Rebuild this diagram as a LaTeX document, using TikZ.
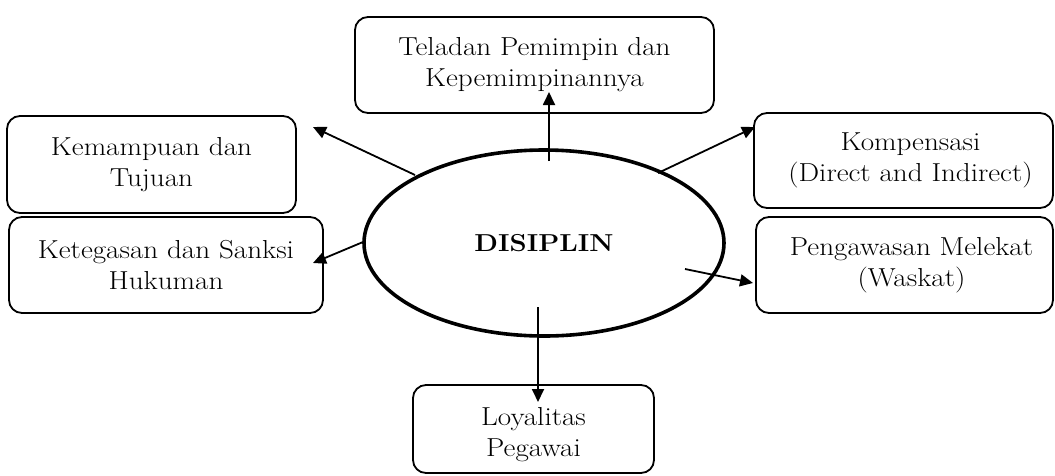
\documentclass[tikz,border=0pt]{standalone}
\usepackage{fontspec}
\setmainfont{Latin Modern Roman}[FakeStretch=1.12]
\usetikzlibrary{arrows.meta,shapes.geometric}
\begin{document}
\begin{tikzpicture}[x=1pt,y=-1pt,
  box/.style={draw=black,line width=1.8pt,rounded corners=13pt,align=center,inner sep=0pt,
    font=\fontsize{26}{31}\selectfont},
  arr/.style={line width=1.8pt,-{Triangle[length=13pt,width=12pt]}},
  core/.style={draw=black,ellipse,line width=3.6pt,minimum width=360pt,minimum height=186pt,inner sep=0pt,
    font=\bfseries\fontsize{24.5}{30}\selectfont}]
\useasboundingbox (0,0) rectangle (1055,475);
\node[box,minimum width=359pt,minimum height=96pt] (top) at (534.5,65) {Teladan Pemimpin dan\\Kepemimpinannya};
\node[box,minimum width=289pt,minimum height=97pt] (lt) at (151.5,164.5) {Kemampuan dan\\Tujuan};
\node[box,minimum width=314pt,minimum height=96pt] (lb) at (166,265) {Ketegasan dan Sanksi\\Hukuman};
\node[box,minimum width=299pt,minimum height=95pt] (rt) at (903.5,160.5) {\hspace*{14pt}Kompensasi\\\hspace*{14pt}(Direct and Indirect)};
\node[box,minimum width=297pt,minimum height=96pt] (rb) at (904.5,265) {\hspace*{14pt}Pengawasan Melekat\\\hspace*{14pt}(Waskat)};
\node[box,minimum width=241pt,minimum height=88pt] (bot) at (533.5,429) {\rule{0pt}{30pt}Loyalitas\\Pegawai};
\node[core] (dis) at (544,243) {DISIPLIN};
\coordinate (s1) at (549,161); \coordinate (e1) at (549,92);
\coordinate (s2) at (415,175); \coordinate (e2) at (313,127);
\coordinate (s3) at (658,173); \coordinate (e3) at (755,127);
\coordinate (s4) at (363,242); \coordinate (e4) at (313,263);
\coordinate (s5) at (685,269); \coordinate (e5) at (753,283);
\coordinate (s6) at (538,307); \coordinate (e6) at (538,402);
\draw[arr] (s1) -- (e1);
\draw[arr] (s2) -- (e2);
\draw[arr] (s3) -- (e3);
\draw[arr] (s4) -- (e4);
\draw[arr] (s5) -- (e5);
\draw[arr] (s6) -- (e6);
\end{tikzpicture}
\end{document}
